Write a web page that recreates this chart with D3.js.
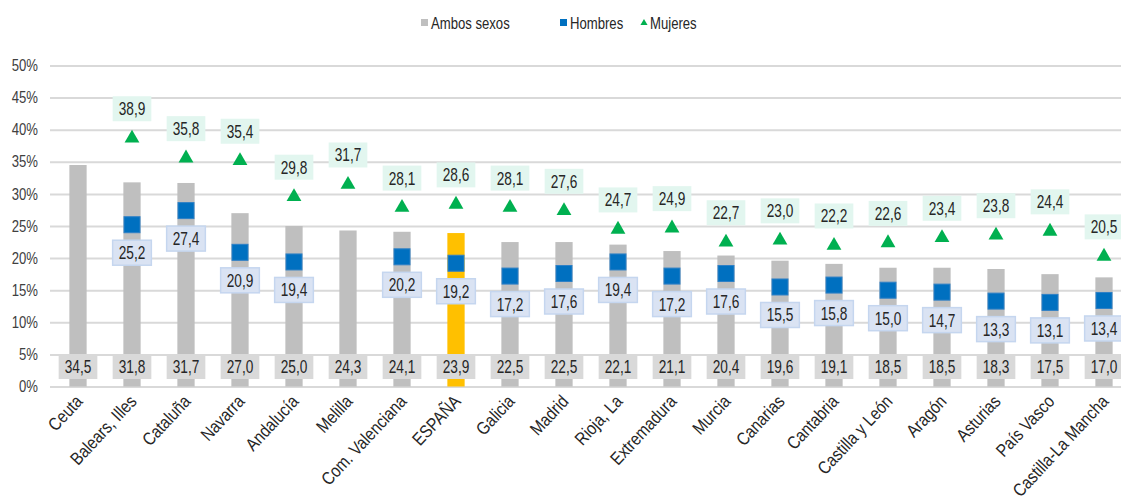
<!DOCTYPE html>
<html>
<head>
<meta charset="utf-8">
<script src="https://cdn.jsdelivr.net/npm/d3@7"></script>
<style>
  body { margin: 0; background: #fff; }
  svg text { font-family: "Liberation Sans Narrow", "Arial Narrow", "Liberation Sans", Arial, sans-serif; fill: #262626; }
</style>
</head>
<body>
<svg width="1121" height="501"></svg>
<script>
var categories = ["Ceuta", "Balears, Illes", "Cataluña", "Navarra", "Andalucía", "Melilla",
  "Com. Valenciana", "ESPAÑA", "Galicia", "Madrid", "Rioja, La", "Extremadura", "Murcia",
  "Canarias", "Cantabria", "Castilla y León", "Aragón", "Asturias", "País Vasco", "Castilla-La Mancha"];
var ambos = [34.5, 31.8, 31.7, 27.0, 25.0, 24.3, 24.1, 23.9, 22.5, 22.5, 22.1, 21.1, 20.4, 19.6, 19.1, 18.5, 18.5, 18.3, 17.5, 17.0];
var hombres = [null, 25.2, 27.4, 20.9, 19.4, null, 20.2, 19.2, 17.2, 17.6, 19.4, 17.2, 17.6, 15.5, 15.8, 15.0, 14.7, 13.3, 13.1, 13.4];
var mujeres = [null, 38.9, 35.8, 35.4, 29.8, 31.7, 28.1, 28.6, 28.1, 27.6, 24.7, 24.9, 22.7, 23.0, 22.2, 22.6, 23.4, 23.8, 24.4, 20.5];
var yTicks = [0, 5, 10, 15, 20, 25, 30, 35, 40, 45, 50];
var seriesNames = ["Ambos sexos", "Hombres", "Mujeres"];

var svg = d3.select("svg");
var squeeze = 0.82; // narrow look of the original font

var x = d3.scaleBand().domain(categories).range([51, 1131]).paddingInner(0.68).paddingOuter(0.34);
var y = d3.scaleLinear().domain([0, 50]).range([386.5, 65.5]);
var cx = function(i) { return x(categories[i]) + x.bandwidth() / 2; };
var fmt = function(v) { return v.toFixed(1).replace(".", ","); };

// grid + y axis
var yAxis = svg.append("g")
    .attr("transform", "translate(50,0)")
    .call(d3.axisLeft(y).tickValues(yTicks).tickSize(-1100).tickPadding(12).tickFormat(function(d) { return d + "%"; }));
yAxis.select(".domain").remove();
yAxis.selectAll("line").attr("stroke", "#d9d9d9").attr("stroke-width", 2);
yAxis.selectAll("text")
    .attr("font-size", 16).style("fill", "#404040")
    .attr("transform", function() { return "translate(" + this.getAttribute("x") + ",0) scale(" + squeeze + ",1)"; })
    .attr("x", 0);

// bars (ambos sexos)
svg.append("g").selectAll("rect")
  .data(ambos)
  .enter().append("rect")
    .attr("x", function(d, i) { return x(categories[i]); })
    .attr("width", x.bandwidth())
    .attr("y", function(d) { return y(d); })
    .attr("height", function(d) { return y(0) - y(d); })
    .attr("fill", function(d, i) { return categories[i] === "ESPAÑA" ? "#ffc000" : "#bfbfbf"; });

// label box helper
function labelBox(g, px, py, txt, fill, stroke) {
  var t = g.append("text")
      .attr("transform", "translate(" + px + "," + py + ") scale(0.76,1)")
      .attr("dy", "0.36em")
      .attr("text-anchor", "middle").attr("font-size", 18)
      .text(txt);
  var w = t.node().getBBox().width * 0.76;
  g.insert("rect", "text")
      .attr("x", px - w / 2 - 6).attr("y", py - 12.5)
      .attr("width", w + 12).attr("height", 25)
      .attr("fill", fill)
      .attr("stroke", stroke || "none").attr("stroke-width", stroke ? 1.5 : 0);
}

// ambos labels at the base
ambos.forEach(function(v, i) {
  labelBox(svg.append("g"), cx(i), y(0) - 20, fmt(v), "#d9d9d9");
});

// hombres markers + labels
hombres.forEach(function(v, i) {
  if (v == null) return;
  svg.append("rect")
      .attr("x", cx(i) - 8).attr("y", y(v) - 8)
      .attr("width", 16).attr("height", 16)
      .attr("fill", "#0070c0").attr("stroke", "#2f80c6").attr("stroke-width", 1);
  labelBox(svg.append("g"), cx(i), y(v) + 28, fmt(v), "#dae3f3", "#c5d6ef");
});

// mujeres markers + labels
var tri = d3.symbol().type(d3.symbolTriangle).size(95);
mujeres.forEach(function(v, i) {
  if (v == null) return;
  svg.append("path")
      .attr("d", tri)
      .attr("transform", "translate(" + cx(i) + "," + (y(v) + 1.5) + ")")
      .attr("fill", "#00b050");
  labelBox(svg.append("g"), cx(i), y(v) - 28, fmt(v), "#e2f6ef");
});

// x labels
svg.append("g").selectAll("text")
  .data(categories)
  .enter().append("text")
    .attr("transform", function(d) { return "translate(" + (x(d) + x.bandwidth() / 2 + 1) + ",398) rotate(-47) scale(0.85,1)"; })
    .attr("text-anchor", "end")
    .attr("dy", "0.35em")
    .attr("font-size", 18)
    .style("fill", "#262626")
    .text(function(d) { return d; });

// legend
var legend = svg.append("g").attr("font-size", 16);
var legX = [421, 560, 640];
seriesNames.forEach(function(name, i) {
  var g = legend.append("g").attr("transform", "translate(" + legX[i] + ",23)");
  if (i === 0) g.append("rect").attr("x", 0).attr("y", -4).attr("width", 7).attr("height", 7).attr("fill", "#bfbfbf");
  if (i === 1) g.append("rect").attr("x", 0).attr("y", -4).attr("width", 7).attr("height", 7).attr("fill", "#0070c0");
  if (i === 2) g.append("path").attr("d", d3.symbol().type(d3.symbolTriangle).size(22)).attr("transform", "translate(4,0)").attr("fill", "#00b050");
  g.append("text").attr("transform", "translate(10,0) scale(" + squeeze + ",1)").attr("dy", "0.35em").text(name);
});
</script>
</body>
</html>
